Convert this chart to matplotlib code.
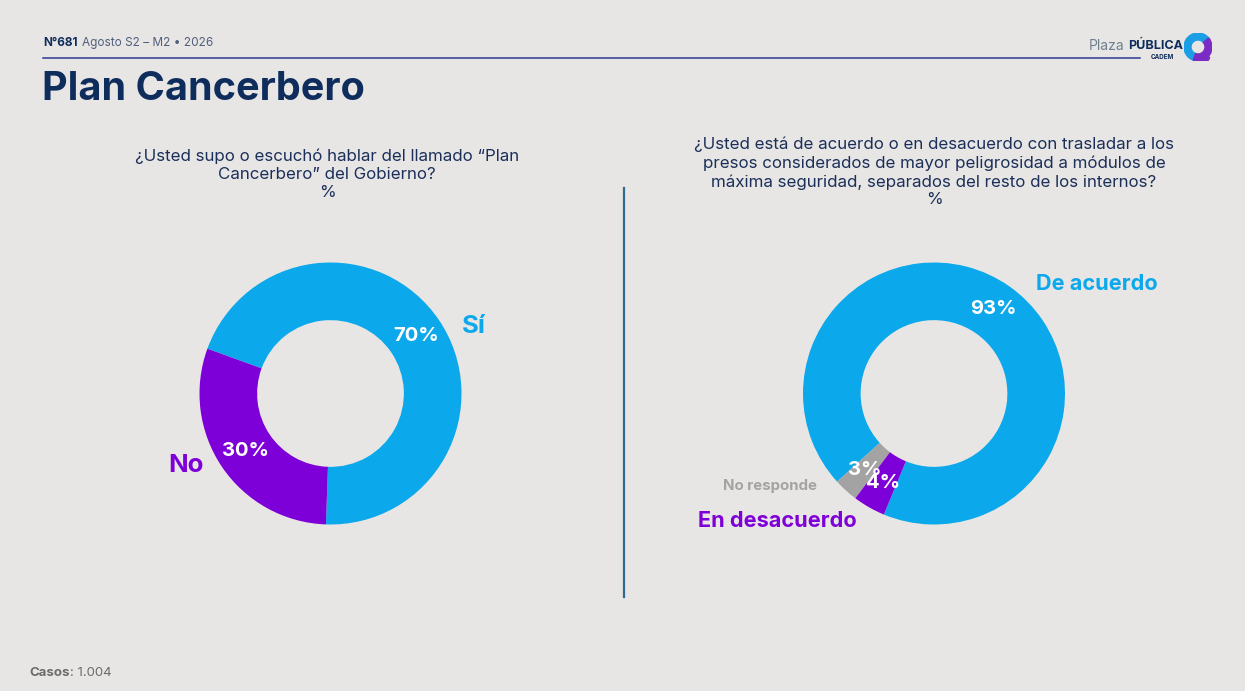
import matplotlib.pyplot as plt
from matplotlib.patches import Wedge

# datos
p1_labels = ["Sí", "No"]
p1_values = [70, 30]
p2_labels = ["De acuerdo", "No responde", "En desacuerdo"]
p2_values = [93, 3, 4]

BG = "#e8e6e4"
NAVY = "#0f2d5c"
BLUE = "#0ba8ec"
PURPLE = "#7e00d8"
GRAY = "#a3a3a3"

plt.rcParams["font.family"] = ["Inter", "DejaVu Sans"]

W, H = 1245, 691
fig = plt.figure(figsize=(W / 100, H / 100), dpi=100, facecolor=BG)


def fx(px):
    return px / W


def fy(py):
    return 1 - py / H


def after(prev, s, gap=0, **kw):
    # texto pegado a la derecha de otro texto
    a = plt.Annotation(s, xy=(1, 0.5), xycoords=prev, xytext=(gap, 0),
                       textcoords="offset points", va="center", ha="left", **kw)
    fig.add_artist(a)
    return a


# cabecera
t1 = fig.text(fx(43), fy(43), "N°681", fontsize=8.5, fontweight="bold", color=NAVY, va="center")
after(t1, "Agosto S2 – M2 • 2026", gap=3, fontsize=8.5, color="#4f5f7c")
fig.add_artist(plt.Line2D([fx(43), fx(1140)], [fy(58), fy(58)], color="#2b3990", lw=1.1))
fig.text(fx(42), fy(89), "Plan Cancerbero", fontsize=28.5, fontweight="bold", color=NAVY, va="center")

# logo
fig.text(fx(1125), fy(46), "Plaza", fontsize=10, color="#6f7f90", va="center", ha="right")
fig.text(fx(1128), fy(46), "PÚBLICA", fontsize=9, fontweight="bold", color=NAVY, va="center", ha="left")
fig.text(fx(1162), fy(57), "CADEM", fontsize=4.5, fontweight="bold", color=NAVY, va="center", ha="center")
lax = fig.add_axes([fx(1184), fy(61), fx(28), 28 / H])
lax.set_xlim(-1, 1)
lax.set_ylim(-1, 1)
lax.set_aspect("equal")
lax.axis("off")
lax.add_patch(Wedge((0, 0), 1, 40, 250, width=0.5, color="#1a9ee6"))
lax.add_patch(Wedge((0, 0), 1, 250, 400, width=0.5, color="#7a2bc4"))
lax.add_patch(Wedge((0.5, -0.72), 0.32, 180, 360, color="#7a2bc4"))

# preguntas
q1 = "¿Usted supo o escuchó hablar del llamado “Plan\nCancerbero” del Gobierno?\n%"
q2 = ("¿Usted está de acuerdo o en desacuerdo con trasladar a los\n"
      "presos considerados de mayor peligrosidad a módulos de\n"
      "máxima seguridad, separados del resto de los internos?\n%")
fig.text(fx(327), fy(149), q1, fontsize=12.2, color="#1b2f5a", ha="center", va="top", linespacing=1.22)
fig.text(fx(934), fy(137), q2, fontsize=12.2, color="#1b2f5a", ha="center", va="top", linespacing=1.24)

# separador
fig.add_artist(plt.Line2D([fx(624), fx(624)], [fy(188), fy(597)], color="#2f6b90", lw=1.6))

R = 131  # radio en pixeles


def donut_axes(cx, cy):
    return fig.add_axes([fx(cx - 2 * R), fy(cy + 2 * R), 4 * R / W, 4 * R / H])


def finish(ax):
    ax.set_xlim(-2, 2)
    ax.set_ylim(-2, 2)
    ax.set_aspect("equal")
    ax.axis("off")


ax1 = donut_axes(330.5, 393.5)
ax1.pie(p1_values, colors=[BLUE, PURPLE], startangle=160, counterclock=False,
        radius=1, wedgeprops=dict(width=0.44, linewidth=0),
        autopct=lambda p: f"{p:.0f}%", pctdistance=0.785,
        textprops=dict(color="white", fontsize=14.5, fontweight="bold"))
ax1.text(1.095, 0.515, p1_labels[0], color=BLUE, fontsize=18.5, fontweight="bold", ha="center", va="center")
ax1.text(-1.10, -0.553, p1_labels[1], color=PURPLE, fontsize=18.5, fontweight="bold", ha="center", va="center")
finish(ax1)

ax2 = donut_axes(934, 393.5)
ax2.pie(p2_values, colors=[BLUE, GRAY, PURPLE], startangle=247.5, counterclock=True,
        radius=1, wedgeprops=dict(width=0.44, linewidth=0),
        autopct=lambda p: f"{p:.0f}%", pctdistance=0.79,
        textprops=dict(color="white", fontsize=14.5, fontweight="bold"))
ax2.text(1.244, 0.836, p2_labels[0], color=BLUE, fontsize=15.6, fontweight="bold", ha="center", va="center")
ax2.text(-1.252, -0.706, p2_labels[1], color=GRAY, fontsize=10.8, fontweight="bold", ha="center", va="center")
ax2.text(-1.198, -0.973, p2_labels[2], color=PURPLE, fontsize=15.6, fontweight="bold", ha="center", va="center")
finish(ax2)

# pie de pagina
c = fig.text(fx(29), fy(673), "Casos", fontsize=9.5, fontweight="bold", color="#6b6b6b", va="center")
after(c, ": 1.004", fontsize=9.5, color="#6b6b6b")

fig.savefig("out.png", dpi=100, facecolor=BG)
